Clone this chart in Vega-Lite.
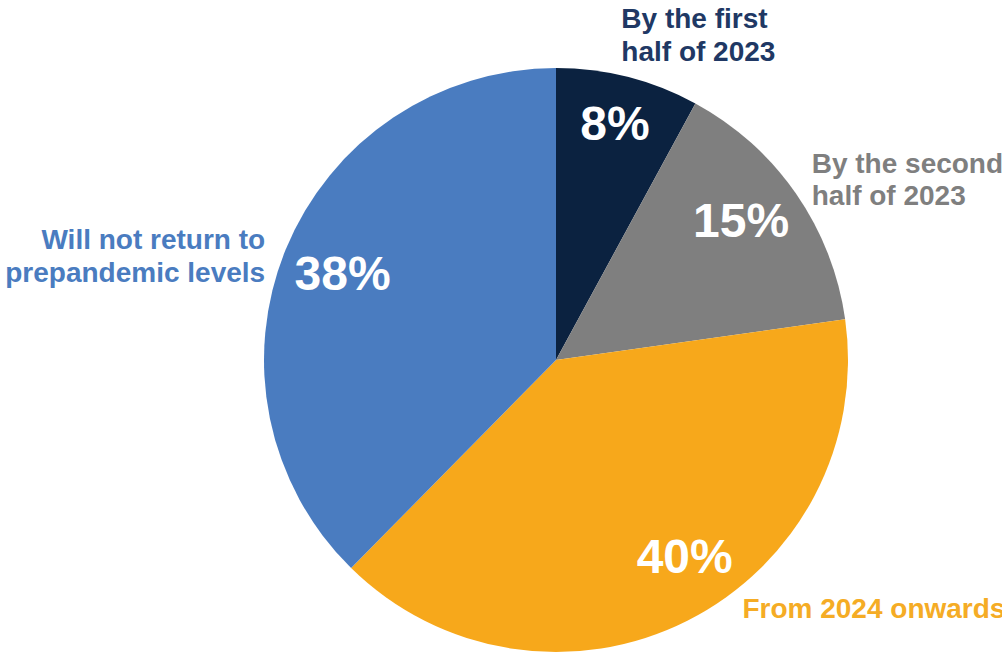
{
  "$schema": "https://vega.github.io/schema/vega-lite/v6.json",
  "width": 892,
  "height": 600,
  "autosize": {"type": "none"},
  "padding": {"left": 110, "top": 60, "right": 0, "bottom": 0},
  "background": "white",
  "config": {"view": {"stroke": null}},
  "data": {
    "values": [
      {"cat": "By the first half of 2023", "label": "By the first\nhalf of 2023", "value": 8, "pct": "8%", "order": 1},
      {"cat": "By the second half of 2023", "label": "By the second\nhalf of 2023", "value": 15, "pct": "15%", "order": 2},
      {"cat": "From 2024 onwards", "label": "From 2024 onwards", "value": 40, "pct": "40%", "order": 3},
      {"cat": "Will not return to prepandemic levels", "label": "Will not return to\nprepandemic levels", "value": 38, "pct": "38%", "order": 4}
    ]
  },
  "encoding": {
    "theta": {"field": "value", "type": "quantitative", "stack": true},
    "order": {"field": "order", "type": "quantitative"}
  },
  "layer": [
    {
      "mark": {"type": "arc", "outerRadius": 292},
      "encoding": {
        "color": {
          "field": "cat",
          "type": "nominal",
          "scale": {
            "domain": ["By the first half of 2023", "By the second half of 2023", "From 2024 onwards", "Will not return to prepandemic levels"],
            "range": ["#0B2240", "#7F7F7F", "#F7A81B", "#4A7CC0"]
          },
          "legend": null
        }
      }
    },
    {
      "mark": {"type": "text", "radius": 235, "dx": 1, "dy": -6, "font": "Liberation Sans", "fontWeight": "bold", "fontSize": 48, "fill": "white", "baseline": "middle", "align": "center"},
      "encoding": {"text": {"field": "pct", "type": "nominal", "condition": {"test": "datum.order !== 1", "value": ""}}}
    },
    {
      "mark": {"type": "text", "radius": 235, "dx": -8, "dy": -3, "font": "Liberation Sans", "fontWeight": "bold", "fontSize": 48, "fill": "white", "baseline": "middle", "align": "center"},
      "encoding": {"text": {"field": "pct", "type": "nominal", "condition": {"test": "datum.order !== 2", "value": ""}}}
    },
    {
      "mark": {"type": "text", "radius": 235, "dx": 23, "dy": -11, "font": "Liberation Sans", "fontWeight": "bold", "fontSize": 48, "fill": "white", "baseline": "middle", "align": "center"},
      "encoding": {"text": {"field": "pct", "type": "nominal", "condition": {"test": "datum.order !== 3", "value": ""}}}
    },
    {
      "mark": {"type": "text", "radius": 235, "dx": 4, "dy": 5, "font": "Liberation Sans", "fontWeight": "bold", "fontSize": 48, "fill": "white", "baseline": "middle", "align": "center"},
      "encoding": {"text": {"field": "pct", "type": "nominal", "condition": {"test": "datum.order !== 4", "value": ""}}}
    },
    {
      "mark": {"type": "text", "radius": 310, "dx": -11, "dy": -40, "font": "Liberation Sans", "fontWeight": "bold", "fontSize": 28, "lineHeight": 33, "lineBreak": "\n", "fill": "#203864", "baseline": "middle", "align": "left"},
      "encoding": {"text": {"field": "label", "type": "nominal", "condition": {"test": "datum.order !== 1", "value": ""}}}
    },
    {
      "mark": {"type": "text", "radius": 310, "dx": 1, "dy": -18, "font": "Liberation Sans", "fontWeight": "bold", "fontSize": 28, "lineHeight": 32, "lineBreak": "\n", "fill": "#7F7F7F", "baseline": "middle", "align": "left"},
      "encoding": {"text": {"field": "label", "type": "nominal", "condition": {"test": "datum.order !== 2", "value": ""}}}
    },
    {
      "mark": {"type": "text", "radius": 310, "dx": 47, "dy": -27, "font": "Liberation Sans", "fontWeight": "bold", "fontSize": 28, "lineHeight": 32, "lineBreak": "\n", "fill": "#F5AC25", "baseline": "middle", "align": "left"},
      "encoding": {"text": {"field": "label", "type": "nominal", "condition": {"test": "datum.order !== 3", "value": ""}}}
    },
    {
      "mark": {"type": "text", "radius": 310, "dx": -4, "dy": -1, "font": "Liberation Sans", "fontWeight": "bold", "fontSize": 28, "lineHeight": 33, "lineBreak": "\n", "fill": "#4A7CC0", "baseline": "middle", "align": "right"},
      "encoding": {"text": {"field": "label", "type": "nominal", "condition": {"test": "datum.order !== 4", "value": ""}}}
    }
  ]
}
